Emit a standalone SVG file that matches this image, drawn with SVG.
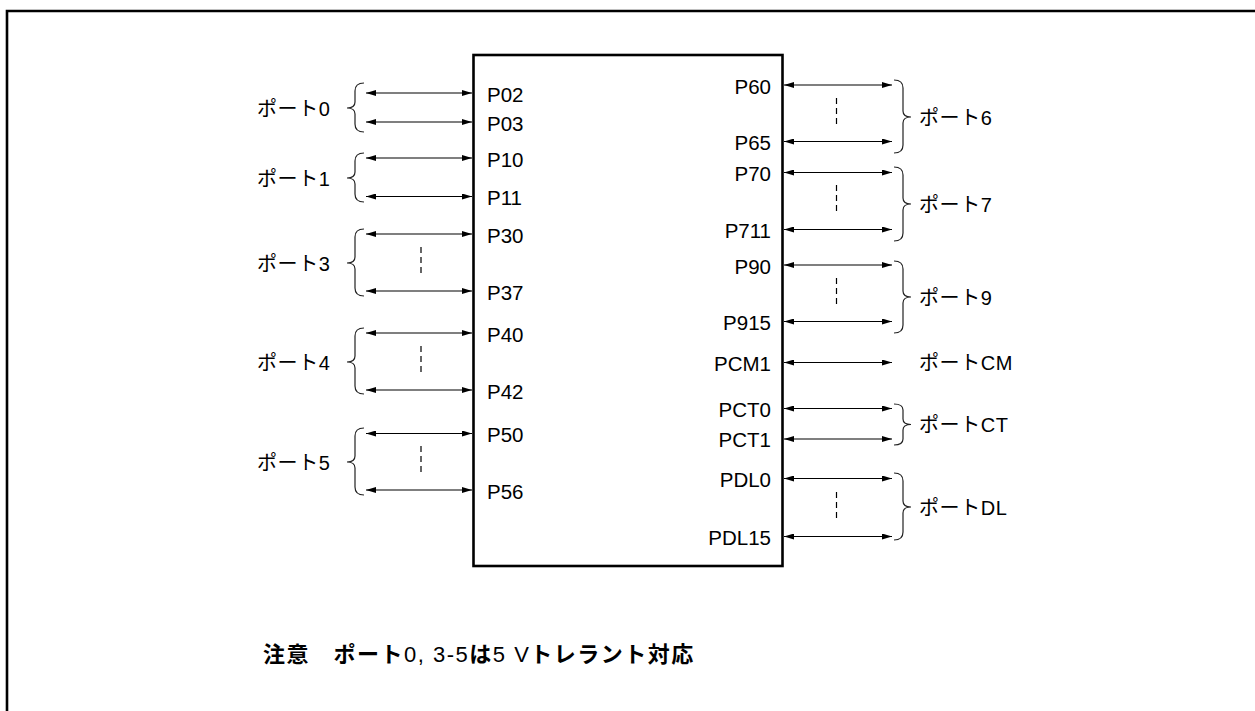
<svg xmlns="http://www.w3.org/2000/svg" width="1255" height="711" viewBox="0 0 1255 711">
<style>
.lbl{font-family:"Liberation Sans","Noto Sans CJK JP",sans-serif;font-size:20px;letter-spacing:0.6px;fill:#000}
.pin{font-family:"Liberation Sans","Noto Sans CJK JP",sans-serif;font-size:20.5px;fill:#000}
.pinr{font-family:"Liberation Sans","Noto Sans CJK JP",sans-serif;font-size:20.5px;fill:#000;text-anchor:end}
.note{font-family:"Liberation Sans","Noto Sans CJK JP",sans-serif;font-size:22px;letter-spacing:1.5px;fill:#000}
.b{font-weight:bold}
.arr{stroke:#000;stroke-width:1.2;fill:none;marker-start:url(#ah);marker-end:url(#ah)}
.brace{stroke:#222;stroke-width:1.2;fill:none}
.dash{stroke:#000;stroke-width:1.2;stroke-dasharray:6 4;fill:none}
.frame{stroke:#000;stroke-width:2.6;fill:none}
</style>
<defs>
<marker id="ah" viewBox="0 0 10 6" refX="10" refY="3" markerWidth="10" markerHeight="6" markerUnits="userSpaceOnUse" orient="auto-start-reverse">
<path d="M0,0 L10,3 L0,6 z" fill="#000"/>
</marker>
</defs>
<rect width="1255" height="711" fill="#fff"/>
<path class="frame" d="M7,711 L7,11 L1256,11"/>
<g id="chip">
<rect x="473.5" y="55" width="309" height="511" fill="none" stroke="#000" stroke-width="2.6"/>
</g>
<g id="connectors">
<line class="arr" x1="366" y1="93" x2="472" y2="93"/>
<line class="arr" x1="366" y1="122" x2="472" y2="122"/>
<line class="arr" x1="366" y1="158" x2="472" y2="158"/>
<line class="arr" x1="366" y1="196.5" x2="472" y2="196.5"/>
<line class="arr" x1="366" y1="234" x2="472" y2="234"/>
<line class="arr" x1="366" y1="291" x2="472" y2="291"/>
<line class="arr" x1="366" y1="333" x2="472" y2="333"/>
<line class="arr" x1="366" y1="390" x2="472" y2="390"/>
<line class="arr" x1="366" y1="433.5" x2="472" y2="433.5"/>
<line class="arr" x1="366" y1="490" x2="472" y2="490"/>
<line class="arr" x1="784" y1="85" x2="892" y2="85"/>
<line class="arr" x1="784" y1="141.5" x2="892" y2="141.5"/>
<line class="arr" x1="784" y1="172.5" x2="892" y2="172.5"/>
<line class="arr" x1="784" y1="229.5" x2="892" y2="229.5"/>
<line class="arr" x1="784" y1="265" x2="892" y2="265"/>
<line class="arr" x1="784" y1="321.5" x2="892" y2="321.5"/>
<line class="arr" x1="784" y1="362.5" x2="892" y2="362.5"/>
<line class="arr" x1="784" y1="408.5" x2="892" y2="408.5"/>
<line class="arr" x1="784" y1="439" x2="892" y2="439"/>
<line class="arr" x1="784" y1="478.5" x2="892" y2="478.5"/>
<line class="arr" x1="784" y1="536.5" x2="892" y2="536.5"/>
<line class="dash" x1="421" y1="247" x2="421" y2="274"/>
<line class="dash" x1="421" y1="346" x2="421" y2="373"/>
<line class="dash" x1="421" y1="446" x2="421" y2="473"/>
<line class="dash" x1="836.5" y1="98" x2="836.5" y2="125"/>
<line class="dash" x1="836.5" y1="185" x2="836.5" y2="212"/>
<line class="dash" x1="836.5" y1="278" x2="836.5" y2="305"/>
<line class="dash" x1="836.5" y1="492" x2="836.5" y2="519"/>
</g>
<g id="port0">
<path class="brace" d="M364,83 Q355,83 355,91 L355,102 Q355,108 347,108 Q355,108 355,114 L355,124 Q355,132 364,132"/>
<text class="lbl" x="257" y="116">ポート0</text>
<text class="pin" x="487" y="102">P02</text>
<text class="pin" x="487" y="131">P03</text>
</g>
<g id="port1">
<path class="brace" d="M364,153 Q355,153 355,161 L355,172 Q355,178 347,178 Q355,178 355,184 L355,194 Q355,202 364,202"/>
<text class="lbl" x="257" y="186">ポート1</text>
<text class="pin" x="487" y="167">P10</text>
<text class="pin" x="487" y="205">P11</text>
</g>
<g id="port3">
<path class="brace" d="M364,229 Q355,229 355,237 L355,257 Q355,263 347,263 Q355,263 355,269 L355,288 Q355,296 364,296"/>
<text class="lbl" x="257" y="271">ポート3</text>
<text class="pin" x="487" y="243">P30</text>
<text class="pin" x="487" y="300">P37</text>
</g>
<g id="port4">
<path class="brace" d="M364,328 Q355,328 355,336 L355,356 Q355,362 347,362 Q355,362 355,368 L355,386 Q355,394 364,394"/>
<text class="lbl" x="257" y="370">ポート4</text>
<text class="pin" x="487" y="342">P40</text>
<text class="pin" x="487" y="399">P42</text>
</g>
<g id="port5">
<path class="brace" d="M364,428 Q355,428 355,436 L355,456 Q355,462 347,462 Q355,462 355,468 L355,487 Q355,495 364,495"/>
<text class="lbl" x="257" y="470">ポート5</text>
<text class="pin" x="487" y="442">P50</text>
<text class="pin" x="487" y="499">P56</text>
</g>
<g id="port6">
<path class="brace" d="M894,80 Q903,80 903,88 L903,111 Q903,117 911,117 Q903,117 903,123 L903,145 Q903,153 894,153"/>
<text class="lbl" x="919" y="125">ポート6</text>
<text class="pinr" x="771" y="94">P60</text>
<text class="pinr" x="771" y="150">P65</text>
</g>
<g id="port7">
<path class="brace" d="M894,167 Q903,167 903,175 L903,198 Q903,204 911,204 Q903,204 903,210 L903,233 Q903,241 894,241"/>
<text class="lbl" x="919" y="212">ポート7</text>
<text class="pinr" x="771" y="181">P70</text>
<text class="pinr" x="771" y="238">P711</text>
</g>
<g id="port9">
<path class="brace" d="M894,261 Q903,261 903,269 L903,291 Q903,297 911,297 Q903,297 903,303 L903,325 Q903,333 894,333"/>
<text class="lbl" x="919" y="305">ポート9</text>
<text class="pinr" x="771" y="274">P90</text>
<text class="pinr" x="771" y="330">P915</text>
</g>
<g id="portCM">
<text class="lbl" x="919" y="370">ポートCM</text>
<text class="pinr" x="771" y="371">PCM1</text>
</g>
<g id="portCT">
<path class="brace" d="M894,404 Q903,404 903,410 L903,419 Q903,424.5 911,424.5 Q903,424.5 903,430 L903,439 Q903,445 894,445"/>
<text class="lbl" x="919" y="432">ポートCT</text>
<text class="pinr" x="771" y="417">PCT0</text>
<text class="pinr" x="771" y="447">PCT1</text>
</g>
<g id="portDL">
<path class="brace" d="M894,473 Q903,473 903,481 L903,501 Q903,507 911,507 Q903,507 903,513 L903,532 Q903,540 894,540"/>
<text class="lbl" x="919" y="515">ポートDL</text>
<text class="pinr" x="771" y="487">PDL0</text>
<text class="pinr" x="771" y="545">PDL15</text>
</g>
<g id="note">
<text class="note" x="263" y="662"><tspan class="b">注意　ポート</tspan>0, 3-5<tspan class="b">は</tspan>5 V<tspan class="b">トレラント対応</tspan></text>
</g>
</svg>
